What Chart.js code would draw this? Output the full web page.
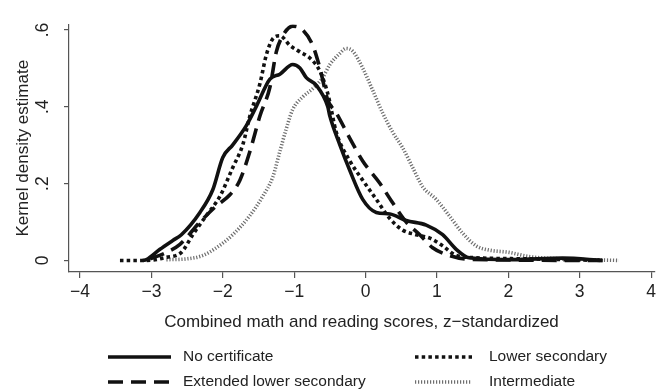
<!DOCTYPE html>
<html><head><meta charset="utf-8">
<script src="https://cdn.jsdelivr.net/npm/chart.js@4.4.0/dist/chart.umd.min.js"></script>
<style>html,body{margin:0;padding:0;background:#fff;}canvas{display:block;}</style>
</head><body>
<canvas id="c" width="660" height="390"></canvas>
<script>
// ---- data ----
const seriesNames = ['No certificate', 'Lower secondary', 'Extended lower secondary', 'Intermediate'];

const noCertX = [-3.12,-3.07,-2.88,-2.70,-2.58,-2.32,-2.14,-2.00,-1.86,-1.67,-1.53,-1.34,-1.20,-1.02,-0.92,-0.83,-0.69,-0.53,-0.50,-0.36,-0.22,-0.04,0.15,0.34,0.57,0.85,1.08,1.27,1.45,2.06,2.76,3.32];
const noCertY = [0,0.002,0.029,0.052,0.067,0.125,0.184,0.268,0.301,0.351,0.401,0.472,0.485,0.510,0.501,0.476,0.456,0.401,0.376,0.301,0.234,0.159,0.125,0.121,0.104,0.092,0.067,0.029,0.007,0.002,0.006,0];

const lowerSecX = [-3.44,-3.07,-2.79,-2.58,-2.42,-2.23,-2.04,-1.86,-1.72,-1.62,-1.48,-1.39,-1.30,-1.20,-1.06,-0.92,-0.78,-0.64,-0.53,-0.41,-0.22,-0.04,0.15,0.34,0.52,0.71,0.90,1.08,1.27,1.55,2.29,3.32];
const lowerSecY = [0,0,0.008,0.021,0.067,0.117,0.167,0.242,0.301,0.376,0.460,0.535,0.577,0.585,0.560,0.543,0.527,0.493,0.435,0.334,0.259,0.209,0.159,0.109,0.079,0.067,0.058,0.038,0.013,0.007,0.004,0];

const extLowerX = [-3.02,-2.79,-2.60,-2.32,-2.09,-1.90,-1.76,-1.62,-1.48,-1.34,-1.25,-1.16,-1.02,-0.88,-0.74,-0.64,-0.53,-0.41,-0.22,-0.04,0.20,0.38,0.57,0.76,0.94,1.17,1.45,3.32];
const extLowerY = [0.004,0.021,0.042,0.100,0.142,0.171,0.209,0.284,0.376,0.451,0.543,0.585,0.610,0.600,0.560,0.501,0.418,0.384,0.318,0.259,0.201,0.150,0.100,0.067,0.033,0.013,0.003,0];

const intermX = [-2.79,-2.51,-2.28,-2.09,-1.86,-1.62,-1.44,-1.30,-1.20,-1.11,-1.02,-0.88,-0.74,-0.60,-0.50,-0.36,-0.27,-0.18,-0.04,0.10,0.24,0.38,0.52,0.66,0.80,0.99,1.17,1.36,1.55,1.73,2.01,2.29,2.76,3.55];
const intermY = [0.002,0.004,0.013,0.033,0.067,0.117,0.167,0.217,0.284,0.343,0.393,0.426,0.447,0.476,0.510,0.539,0.552,0.545,0.501,0.443,0.384,0.334,0.293,0.242,0.192,0.159,0.117,0.071,0.038,0.027,0.021,0.010,0.004,0];

const xTickValues = [-4,-3,-2,-1,0,1,2,3,4];
const xTickLabels = ['\u22124','\u22123','\u22122','\u22121','0','1','2','3','4'];
const yTickValues = [0,0.2,0.4,0.6];
const yTickLabels = ['0','.2','.4','.6'];
const xTitle = 'Combined math and reading scores, z\u2212standardized';
const yTitle = 'Kernel density estimate';

// ---- build ----
const pts = (xs, ys) => xs.map((x, i) => ({x: x, y: ys[i]}));
const FONT = '"Liberation Sans", Arial, Helvetica, sans-serif';

const styles = [
  {borderColor:'#111', borderWidth:3.6, borderDash:[]},
  {borderColor:'#111', borderWidth:3.6, borderDash:[3.5,3.2]},
  {borderColor:'#111', borderWidth:3.6, borderDash:[15,8]},
  {borderColor:'#6e6e6e', borderWidth:3.6, borderDash:[1.2,1.8]}
];
const seriesData = [pts(noCertX,noCertY), pts(lowerSecX,lowerSecY), pts(extLowerX,extLowerY), pts(intermX,intermY)];

const datasets = seriesNames.map((name, i) => Object.assign({
  label: name,
  data: seriesData[i],
  showLine: true,
  pointRadius: 0,
  fill: false,
  cubicInterpolationMode: 'monotone',
  borderCapStyle: 'butt',
  borderJoinStyle: 'round'
}, styles[i]));

const legendPlugin = {
  id: 'twoColLegend',
  afterDraw(chart) {
    const ctx = chart.ctx;
    const cols = [{x0:108, x1:171, tx:183}, {x0:415, x1:472, tx:489}];
    const rows = [357, 382];
    ctx.save();
    chart.data.datasets.forEach((ds, i) => {
      const c = cols[i % 2], y = rows[Math.floor(i / 2)];
      ctx.beginPath();
      ctx.strokeStyle = ds.borderColor;
      ctx.lineWidth = ds.borderWidth;
      ctx.setLineDash(ds.borderDash || []);
      ctx.lineCap = 'butt';
      ctx.moveTo(c.x0, y);
      ctx.lineTo(c.x1, y);
      ctx.stroke();
      ctx.setLineDash([]);
      ctx.fillStyle = '#222';
      ctx.font = '15.5px ' + FONT;
      ctx.textBaseline = 'middle';
      ctx.textAlign = 'left';
      ctx.fillText(ds.label, c.tx, y);
    });
    ctx.restore();
  }
};

new Chart(document.getElementById('c'), {
  type: 'scatter',
  data: {datasets: datasets},
  plugins: [legendPlugin],
  options: {
    responsive: false,
    animation: false,
    devicePixelRatio: 1,
    layout: {padding: {top: 15, right: 5, left: 0, bottom: 0}},
    plugins: {legend: {display: false}, tooltip: {enabled: false}},
    scales: {
      x: {
        type: 'linear',
        min: -4.154, max: 4.042,
        afterFit: s => { s.height = 118; },
        afterBuildTicks: s => { s.ticks = xTickValues.map(v => ({value: v})); },
        grid: {drawOnChartArea: false, drawTicks: true, tickLength: 6, color: '#555', lineWidth: 1.2},
        border: {display: true, color: '#555', width: 1.2},
        ticks: {
          color: '#222', padding: 4, maxRotation: 0,
          font: {family: FONT, size: 17.5},
          callback: (v) => { const i = xTickValues.indexOf(v); return i >= 0 ? xTickLabels[i] : ''; }
        },
        title: {display: true, text: xTitle, color: '#222', font: {family: FONT, size: 17}, padding: {top: 0, bottom: 57}}
      },
      y: {
        type: 'linear',
        min: -0.0301, max: 0.6143,
        afterFit: s => { s.width = 69; },
        afterBuildTicks: s => { s.ticks = yTickValues.map(v => ({value: v})); },
        grid: {drawOnChartArea: false, drawTicks: true, tickLength: 5, color: '#555', lineWidth: 1.2},
        border: {display: true, color: '#555', width: 1.2},
        ticks: {
          color: '#222', padding: 14, minRotation: 90, maxRotation: 90, crossAlign: 'center',
          font: {family: FONT, size: 17.5},
          callback: (v) => { const i = yTickValues.indexOf(v); return i >= 0 ? yTickLabels[i] : ''; }
        },
        title: {display: true, text: yTitle, color: '#222', font: {family: FONT, size: 17}, padding: {top: 13, bottom: 0}}
      }
    }
  }
});
</script>
</body></html>
